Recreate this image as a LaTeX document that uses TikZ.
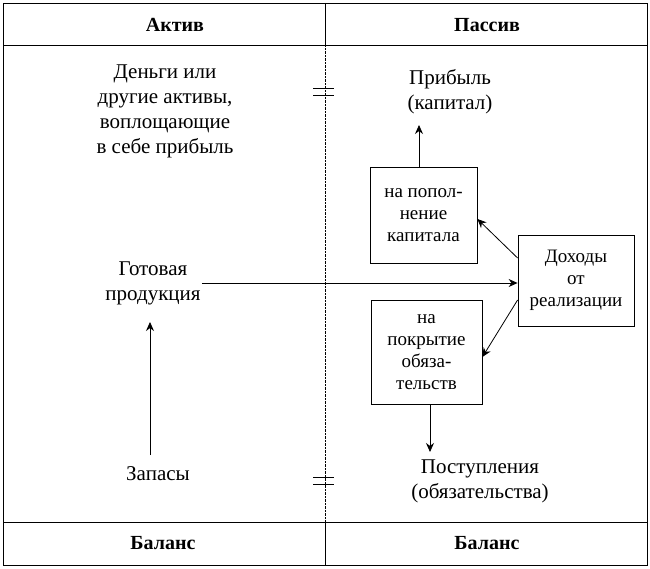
\documentclass[tikz,border=0pt]{standalone}
\usepackage{fontspec}
\setmainfont{Liberation Serif}
\usetikzlibrary{positioning}
\usetikzlibrary{arrows.meta}
\tikzstyle{arrow} = [thick,-{Stealth[length=9pt,width=8pt]}]
\begin{document}
\begin{tikzpicture}[x=1pt,y=-1pt,
  txt/.style = {align=center,font=\fontsize{21}{25}\selectfont,inner sep=1pt},
  box/.style = {draw,thick,align=center,font=\fontsize{19}{22}\selectfont},
  head/.style = {font=\fontsize{20}{24}\selectfont\bfseries}]
 \useasboundingbox (0,0) rectangle (650,569);
 % frame
 \draw[thick] (3,3) rectangle (647,565);
 \draw[thick] (3,45) -- (647,45) (3,522) -- (647,522);
 \draw[thick] (325,3) -- (325,45) (325,522) -- (325,565);
 \draw[densely dotted] (325,45) -- (325,522);
 \node[head] (ha) at (175,25) {Актив};
 \node[head] (hp) at (487,25) {Пассив};
 \node[head] (fa) at (163,543) {Баланс};
 \node[head] (fp) at (487,543) {Баланс};
 % equals
 \draw[thick] (313,88) -- (334,88) (313,95) -- (334,95);
 \draw[thick] (313,477) -- (334,477) (313,484) -- (334,484);
 % texts
 \node[txt] (money) at (165,111) {Деньги или\\другие активы,\\воплощающие\\в себе прибыль};
 \node[txt] (profit) at (450,92) {Прибыль\\(капитал)};
 \node[txt] (goods) at (153,283) {Готовая\\продукция};
 \node[txt] (stock) at (158,474) {Запасы};
 \node[txt] (income) at (480,481) {Поступления\\(обязательства)};
 % boxes
 \node[box,minimum width=107pt,minimum height=96pt] (cap) at (423.5,215) {на попол-\\нение\\капитала};
 \node[box,minimum width=116pt,minimum height=91pt] (rev) at (576,280.5) {Доходы\\от\\реализации};
 \node[box,minimum width=111pt,minimum height=104pt] (debt) at (426.5,352) {на\\покрытие\\обяза-\\тельств};
 % arrows
 \draw[arrow] (cap.north -| 419,0) -- (419,125);
 \draw[arrow] (goods.east) -- (rev.west |- goods.east);
 \draw[arrow] (rev.west |- 0,258) -- (cap.east |- 0,219);
 \draw[arrow] (rev.west |- 0,300) -- (debt.east |- 0,357);
 \draw[arrow] (debt.south -| 430,0) -- (430,452);
 \draw[arrow] (150,455) -- (150,322);
\end{tikzpicture}
\end{document}
